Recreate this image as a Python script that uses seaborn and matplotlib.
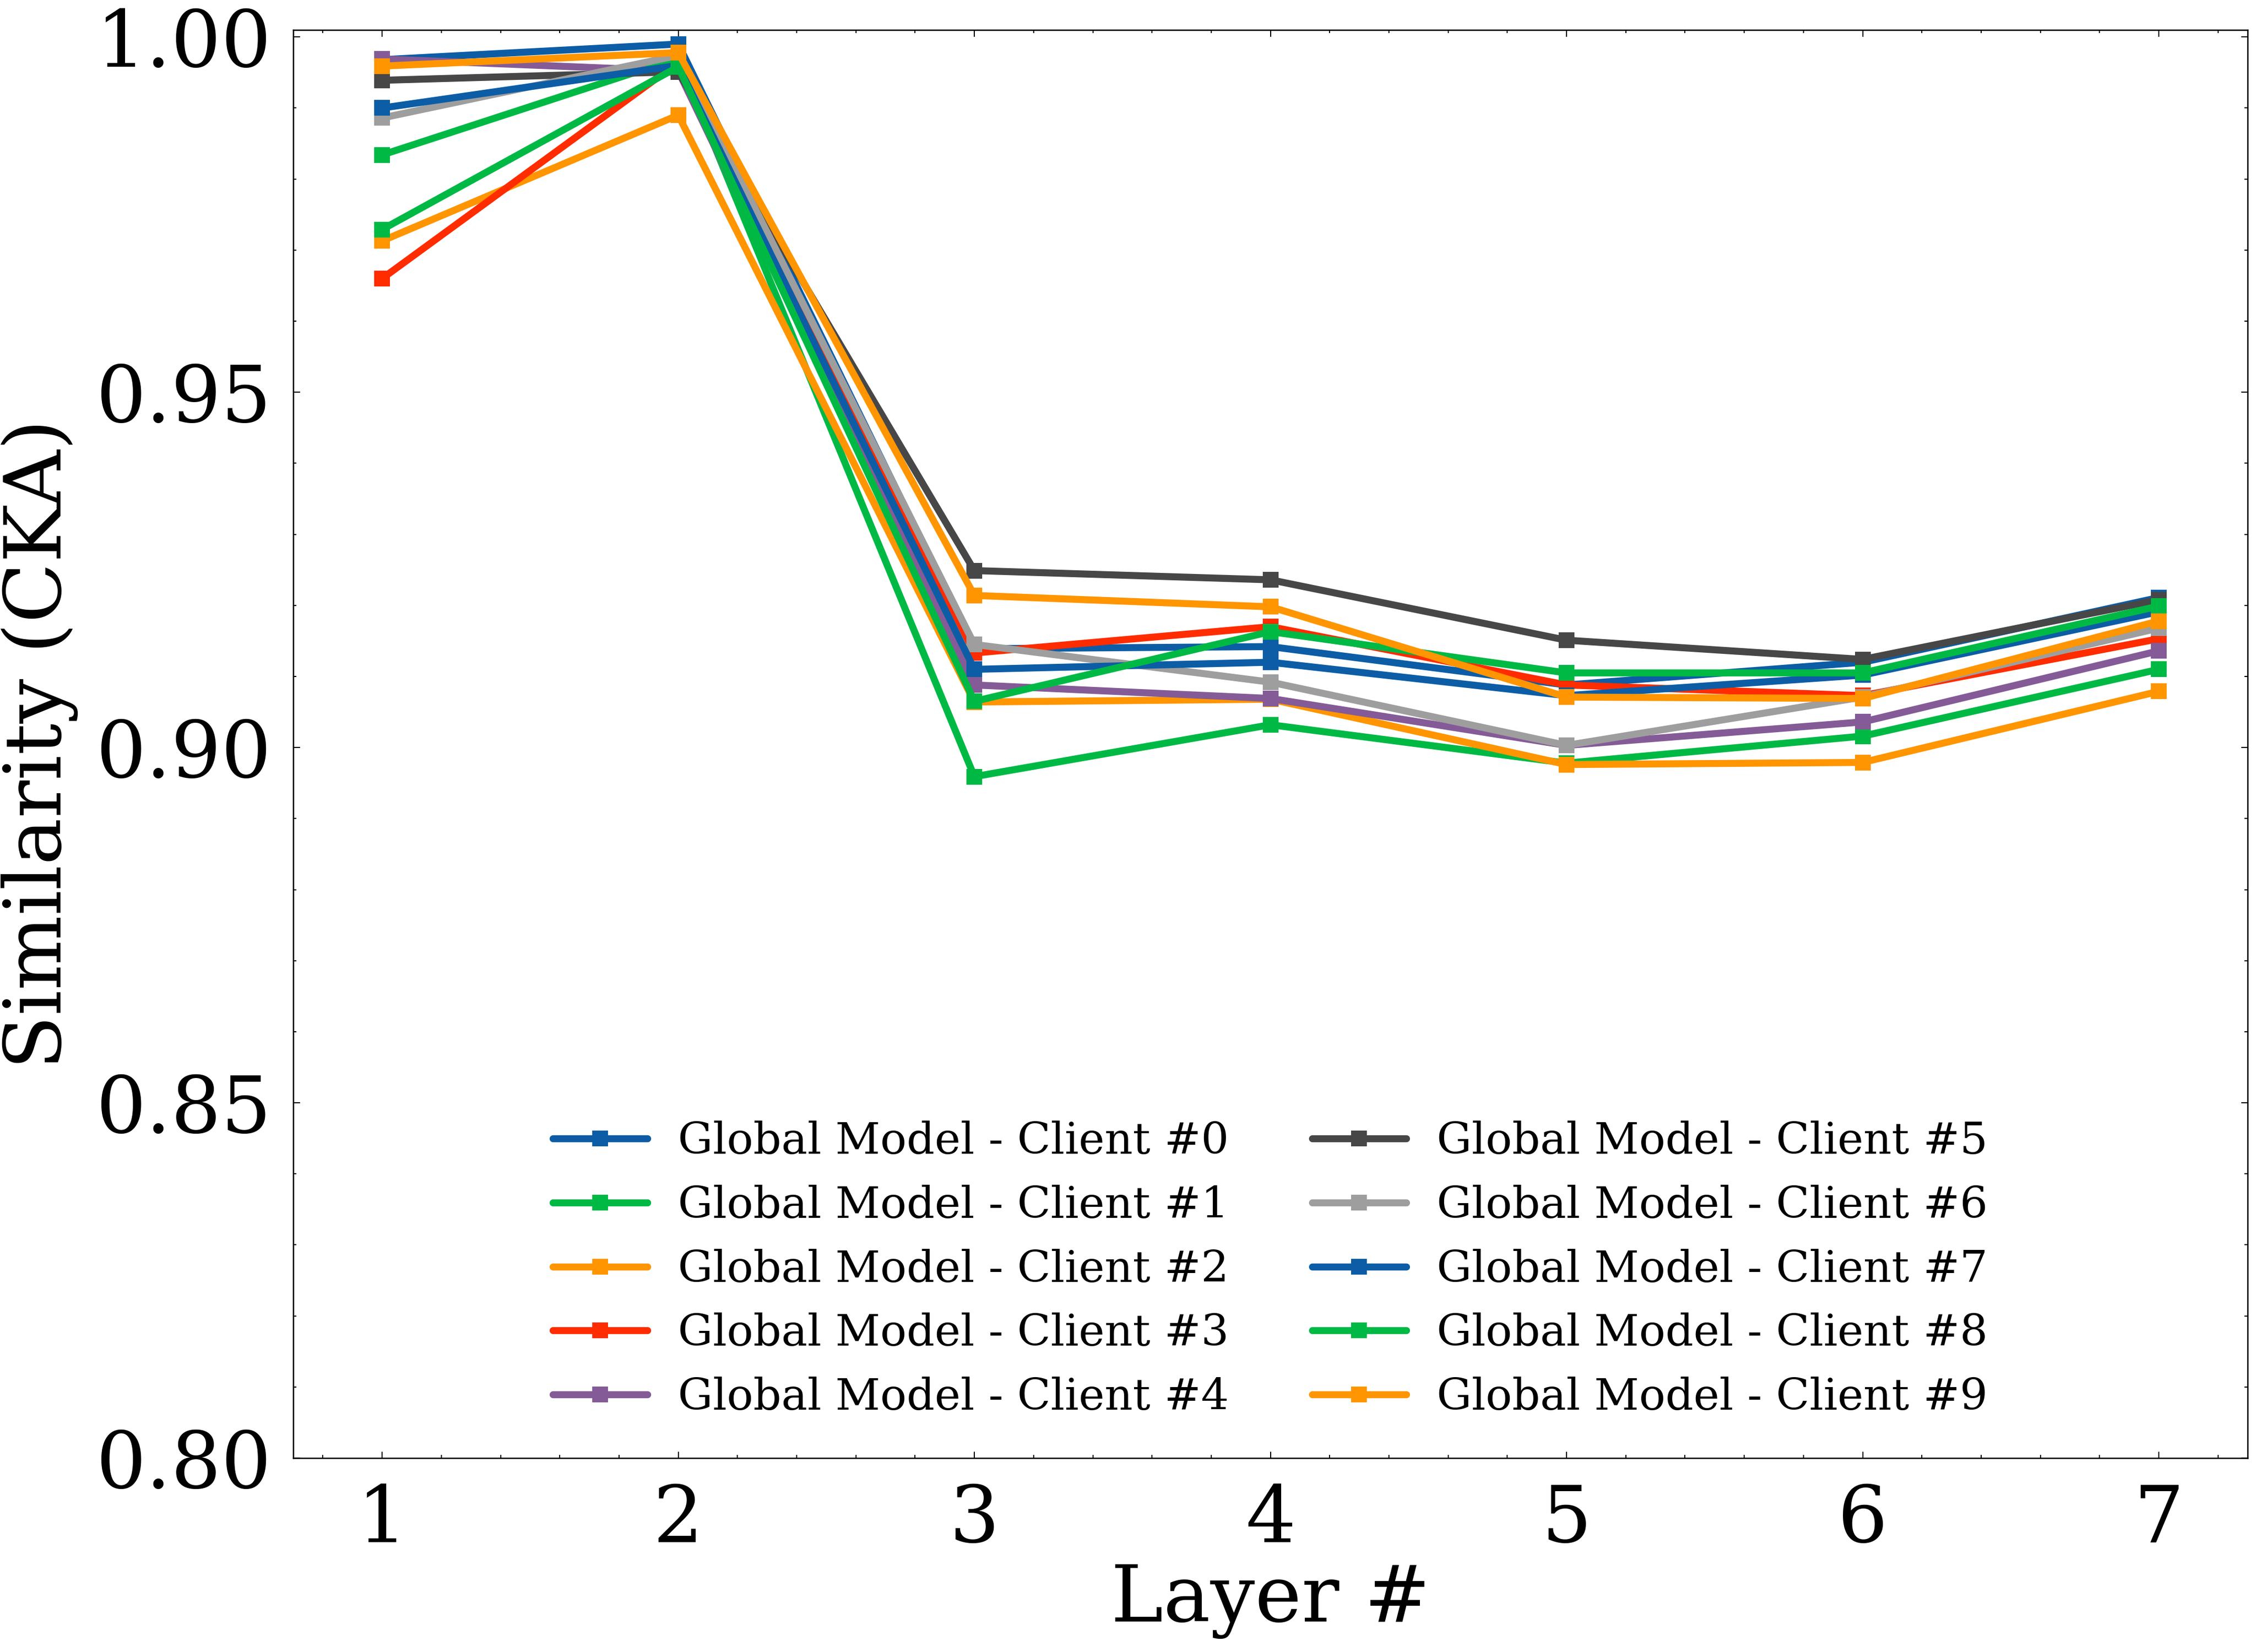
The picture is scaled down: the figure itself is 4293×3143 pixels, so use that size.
import seaborn as sns
import numpy as np
import pandas as pd
from matplotlib import pyplot as plt
from matplotlib.ticker import AutoMinorLocator, MultipleLocator

layers = [1, 2, 3, 4, 5, 6, 7]

client_0 = [0.9968, 0.9990, 0.9139, 0.9142, 0.9088, 0.9120, 0.9211]
client_1 = [0.9834, 0.9970, 0.8959, 0.9032, 0.8978, 0.9016, 0.9110]
client_2 = [0.9713, 0.9890, 0.9064, 0.9068, 0.8976, 0.8979, 0.9079]
client_3 = [0.9660, 0.9964, 0.9133, 0.9170, 0.9088, 0.9073, 0.9153]
client_4 = [0.9969, 0.9952, 0.9088, 0.9069, 0.9003, 0.9036, 0.9136]
client_5 = [0.9939, 0.9951, 0.9249, 0.9236, 0.9151, 0.9124, 0.9208]
client_6 = [0.9886, 0.9974, 0.9145, 0.9092, 0.9003, 0.9071, 0.9168]
client_7 = [0.9900, 0.9960, 0.9110, 0.9120, 0.9073, 0.9102, 0.9191]
client_8 = [0.9729, 0.9958, 0.9065, 0.9163, 0.9105, 0.9105, 0.9199]
client_9 = [0.9959, 0.9978, 0.9214, 0.9198, 0.9071, 0.9069, 0.9178]

clients = [client_0, client_1, client_2, client_3, client_4,
           client_5, client_6, client_7, client_8, client_9]
labels = ["Global Model - Client #%d" % i for i in range(10)]

# SciencePlots-like colour cycle (repeats after 7)
colors = ["#0C5DA5", "#00B945", "#FF9500", "#FF2C00", "#845B97", "#474747", "#9e9e9e"]

sns.set_style("ticks")
plt.rcParams["font.family"] = ["DejaVu Serif"]
plt.rcParams["mathtext.fontset"] = "dejavuserif"
plt.rcParams["text.color"] = "black"
plt.rcParams["axes.labelcolor"] = "black"
plt.rcParams["axes.edgecolor"] = "black"
plt.rcParams["xtick.color"] = "black"
plt.rcParams["ytick.color"] = "black"
plt.rcParams["axes.linewidth"] = 0.6
plt.rcParams["xtick.direction"] = "in"
plt.rcParams["ytick.direction"] = "in"
plt.rcParams["xtick.top"] = True
plt.rcParams["ytick.right"] = True
plt.rcParams["xtick.minor.visible"] = True
plt.rcParams["ytick.minor.visible"] = True
plt.rcParams["xtick.major.size"] = 3
plt.rcParams["ytick.major.size"] = 3
plt.rcParams["xtick.minor.size"] = 1.5
plt.rcParams["ytick.minor.size"] = 1.5
plt.rcParams["xtick.major.width"] = 0.5
plt.rcParams["ytick.major.width"] = 0.5
plt.rcParams["xtick.minor.width"] = 0.5
plt.rcParams["ytick.minor.width"] = 0.5

fig, ax = plt.subplots(figsize=(14.31, 10.477))
fig.subplots_adjust(left=0.130, right=0.9963, top=0.9819, bottom=0.1174)

for i, vals in enumerate(clients):
    sns.lineplot(x=layers, y=vals, color=colors[i % 7], marker="s",
                 markersize=7, markeredgewidth=0, linewidth=3.2,
                 label=labels[i], ax=ax)

ax.set_xlim(0.7, 7.3)
ax.set_ylim(0.80, 1.001)
ax.xaxis.set_major_locator(MultipleLocator(1))
ax.xaxis.set_minor_locator(AutoMinorLocator(5))
ax.yaxis.set_major_locator(MultipleLocator(0.05))
ax.yaxis.set_minor_locator(AutoMinorLocator(5))
ax.yaxis.set_major_formatter(plt.FormatStrFormatter("%.2f"))
ax.tick_params(axis="x", labelsize=36, pad=11)
ax.tick_params(axis="y", labelsize=36, pad=10)

ax.set_xlabel("Layer #", fontsize=36, labelpad=2)
ax.set_ylabel("Similarity (CKA)", fontsize=36, labelpad=8)

ax.legend(ncol=2, loc="lower center", frameon=False, fontsize=20,
          handlelength=2.15, handletextpad=0.7, columnspacing=1.9)

plt.savefig("out.png", dpi=300)
